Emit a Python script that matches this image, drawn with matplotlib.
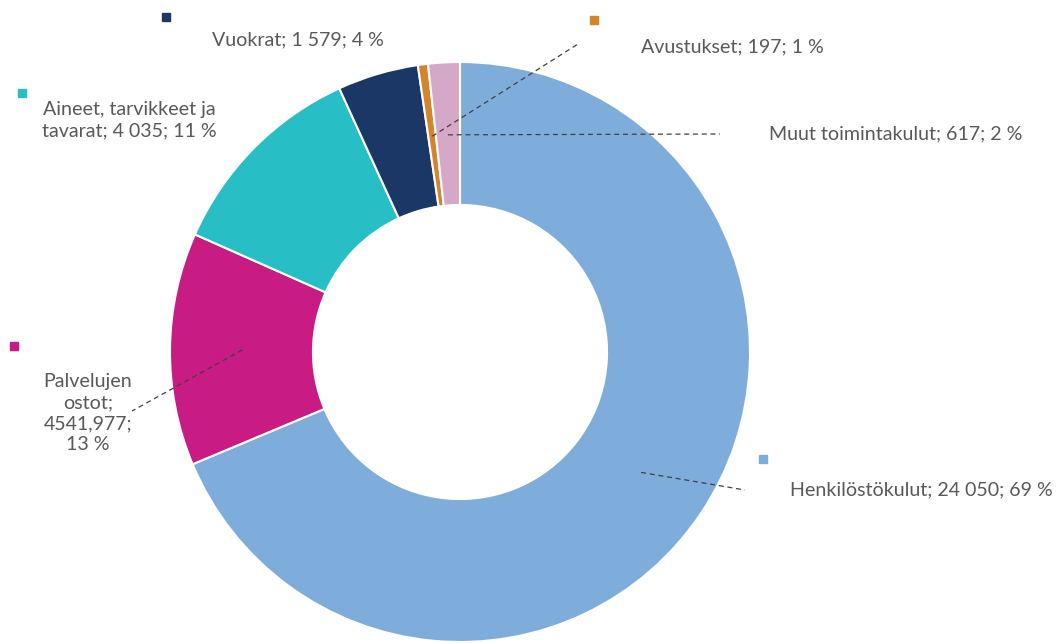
import numpy as np
import matplotlib
matplotlib.use("Agg")
import matplotlib.pyplot as plt

# Kulut (1 000 €), myötäpäivään klo 12:sta
categories = ['Henkilöstökulut', 'Palvelujen ostot', 'Aineet, tarvikkeet ja tavarat',
              'Vuokrat', 'Avustukset', 'Muut toimintakulut']
values = [24050, 4541.977, 4035, 1579, 197, 617]
labels = ['Henkilöstökulut; 24 050; 69 %',
          'Palvelujen\nostot;\n4541,977;\n13 %',
          'Aineet, tarvikkeet ja\ntavarat; 4 035; 11 %',
          'Vuokrat; 1 579; 4 %',
          'Avustukset; 197; 1 %',
          'Muut toimintakulut; 617; 2 %']
colors = ['#7FADDB', '#C91B84', '#28BEC6', '#1B3766', '#D4842A', '#D6A8C7']

plt.rcParams['font.family'] = ['Lato', 'DejaVu Sans']

# pixel helper: center of donut at (460, 352), outer radius 290 px
CX, CY, R = 460, 352, 290


def px(x, y):
    return (x - CX) / R, (CY - y) / R


fig = plt.figure(figsize=(10.56, 6.43), dpi=100)
ax = fig.add_axes([0, 0, 1, 1])
wedges, _ = ax.pie(values, colors=colors, startangle=90, counterclock=False,
                   radius=1, wedgeprops=dict(width=0.493, edgecolor='white', linewidth=1.5))
ax.set_xlim(-CX / R, (1056 - CX) / R)
ax.set_ylim(-(643 - CY) / R, CY / R)
ax.set_aspect('equal')
ax.axis('off')

# label centers, marker positions, leader-line ends (pixels); None = not drawn
label_pos = [(921, 490), (88, 413), (129, 120), (298, 40), (732, 47), (896, 134)]
marker_pos = [(763, 459), (14, 346), (22, 93), (166, 17), (594, 20), None]
line_end = [(745, 490), (132, 411), None, None, (578, 44), (720, 134)]

for i, w in enumerate(wedges):
    tx, ty = px(*label_pos[i])
    ax.text(tx, ty, labels[i], ha='center', va='center', fontsize=14.1,
            color='#595959', linespacing=1.3)
    if marker_pos[i] is not None:
        mx, my = px(*marker_pos[i])
        ax.plot(mx, my, marker='s', markersize=6.3, color=colors[i], linestyle='none')
    if line_end[i] is not None:
        ang = np.deg2rad((w.theta1 + w.theta2) / 2)
        sx, sy = 0.75 * np.cos(ang), 0.75 * np.sin(ang)
        ex, ey = px(*line_end[i])
        ax.plot([sx, ex], [sy, ey], linestyle=(0, (4, 3)), color='#404040', linewidth=0.9)

fig.savefig('out.png', dpi=100)
